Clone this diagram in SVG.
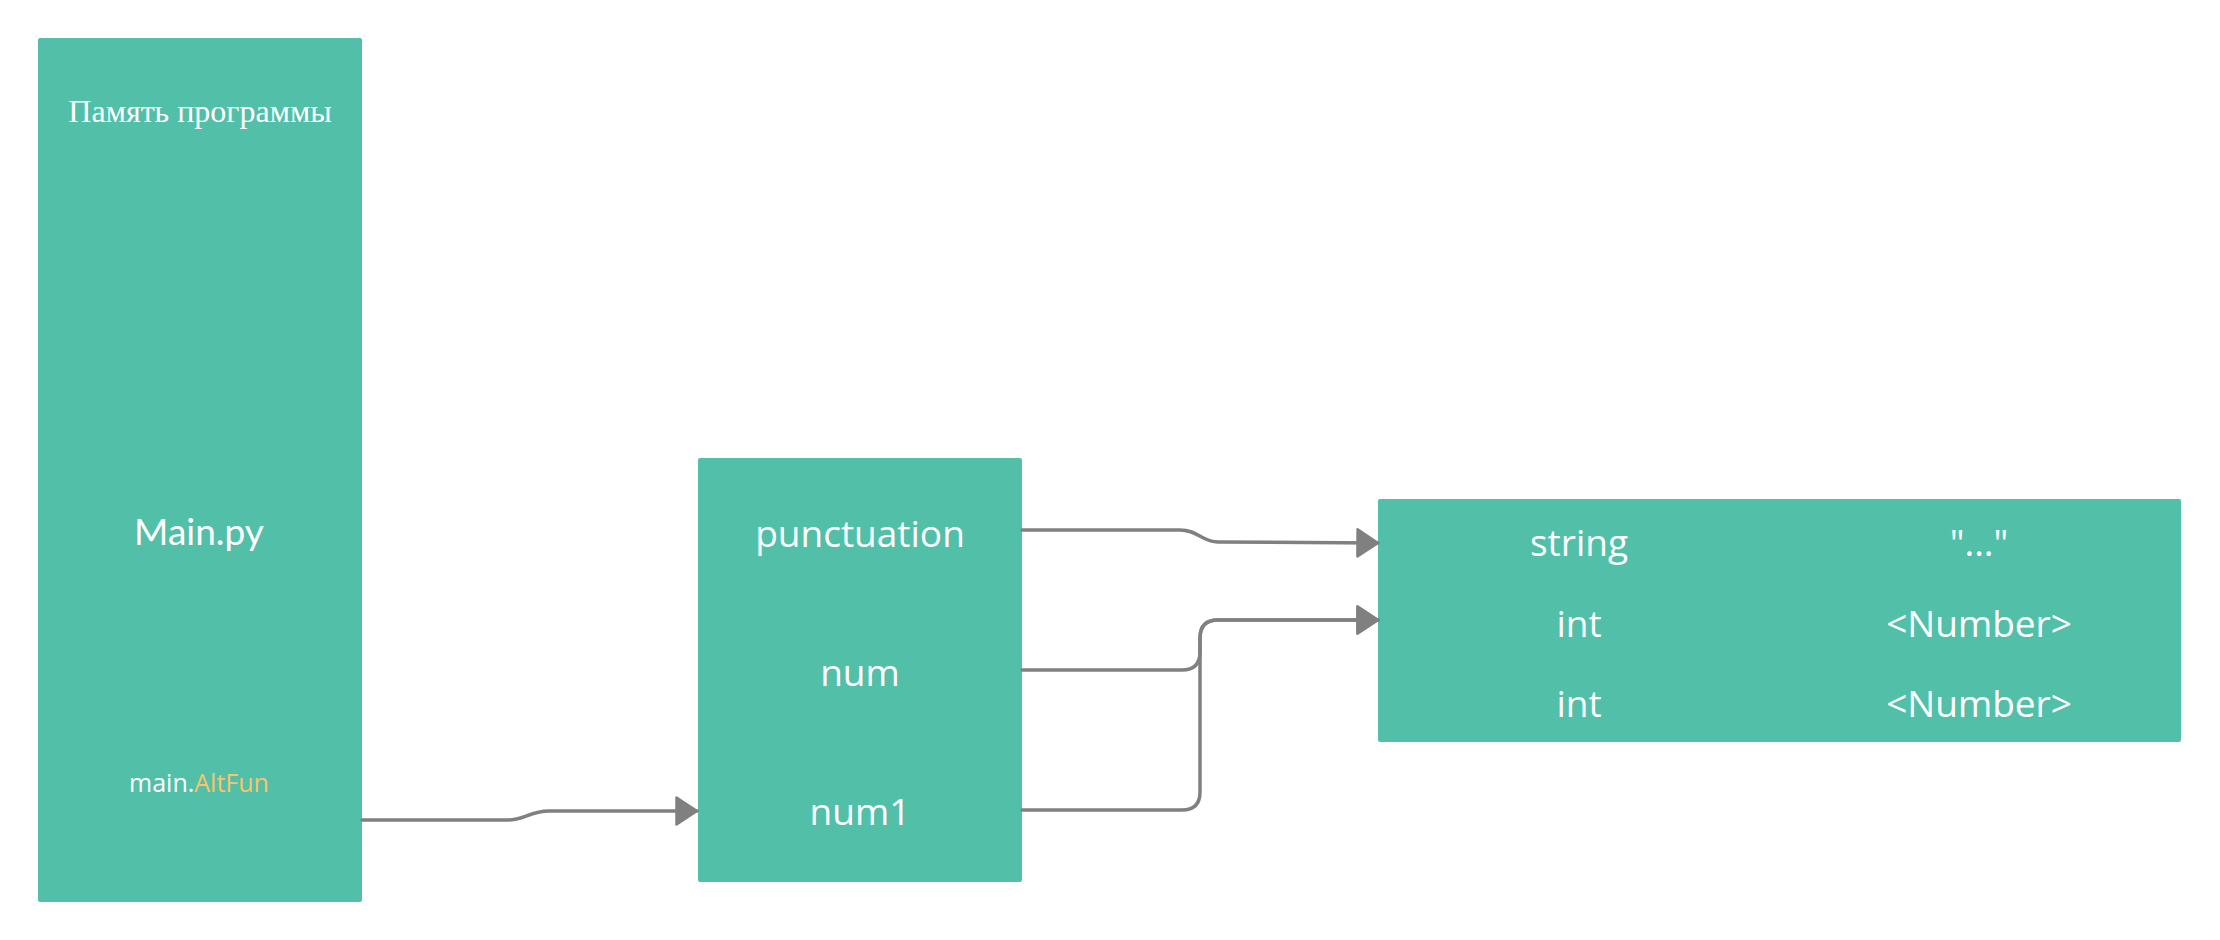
<svg xmlns="http://www.w3.org/2000/svg" width="2220" height="940" viewBox="0 0 2220 940">
<style>
.box{fill:#52C0A9}
.t{fill:#FFFFFF;font-family:"Open Sans","Noto Sans",sans-serif;font-size:37px;text-anchor:middle}
.conn{fill:none;stroke:#808080;stroke-width:3.5;stroke-linecap:round;stroke-linejoin:round}
</style>
<defs>
<marker id="arr" markerUnits="userSpaceOnUse" markerWidth="26" markerHeight="32" refX="22" refY="15" orient="auto" viewBox="0 0 26 32">
<path d="M1.5,1.5 L22,15 L1.5,28.5 Z" fill="#808080" stroke="#808080" stroke-width="2.5" stroke-linejoin="round"/>
</marker>
</defs>
<rect width="2220" height="940" fill="#FFFFFF"/>
<g id="memory">
<rect class="box" x="38" y="38" width="324" height="864" rx="2"/>
<text x="200" y="122" font-family="'Liberation Serif',serif" font-size="32" fill="#FFFFFF" text-anchor="middle">Память программы</text>
<text x="199" y="545" font-family="Lato,sans-serif" font-size="37" fill="#FFFFFF" text-anchor="middle">Main.py</text>
<text x="199" y="792" font-family="'Open Sans',sans-serif" font-size="25" fill="#FFFFFF" text-anchor="middle">main.<tspan fill="#F9C46B">AltFun</tspan></text>
</g>
<g id="altfun">
<rect class="box" x="698" y="458" width="324" height="424" rx="2"/>
<text class="t" x="860" y="547">punctuation</text>
<text class="t" x="860" y="686">num</text>
<text class="t" x="860" y="825">num1</text>
</g>
<g id="values">
<rect class="box" x="1378" y="499" width="803" height="243" rx="2"/>
<text class="t" x="1579" y="556">string</text>
<text class="t" x="1979" y="556">"..."</text>
<text class="t" x="1579" y="637">int</text>
<text class="t" x="1979" y="637">&lt;Number&gt;</text>
<text class="t" x="1579" y="717">int</text>
<text class="t" x="1979" y="717">&lt;Number&gt;</text>
</g>
<g id="connectors">
<path class="conn" d="M362,820 L508,820 C524,820 530,811 549,811 L697,811" marker-end="url(#arr)"/>
<path class="conn" d="M1022,530 L1180,530 C1198,530 1202,542 1218,542 L1378,543" marker-end="url(#arr)"/>
<path class="conn" d="M1022,670 L1182,670 Q1200,670 1200,652 L1200,638 Q1200,620 1218,620 L1378,620" marker-end="url(#arr)"/>
<path class="conn" d="M1022,810 L1182,810 Q1200,810 1200,792 L1200,638 Q1200,620 1218,620 L1378,620" marker-end="url(#arr)"/>
</g>
</svg>
